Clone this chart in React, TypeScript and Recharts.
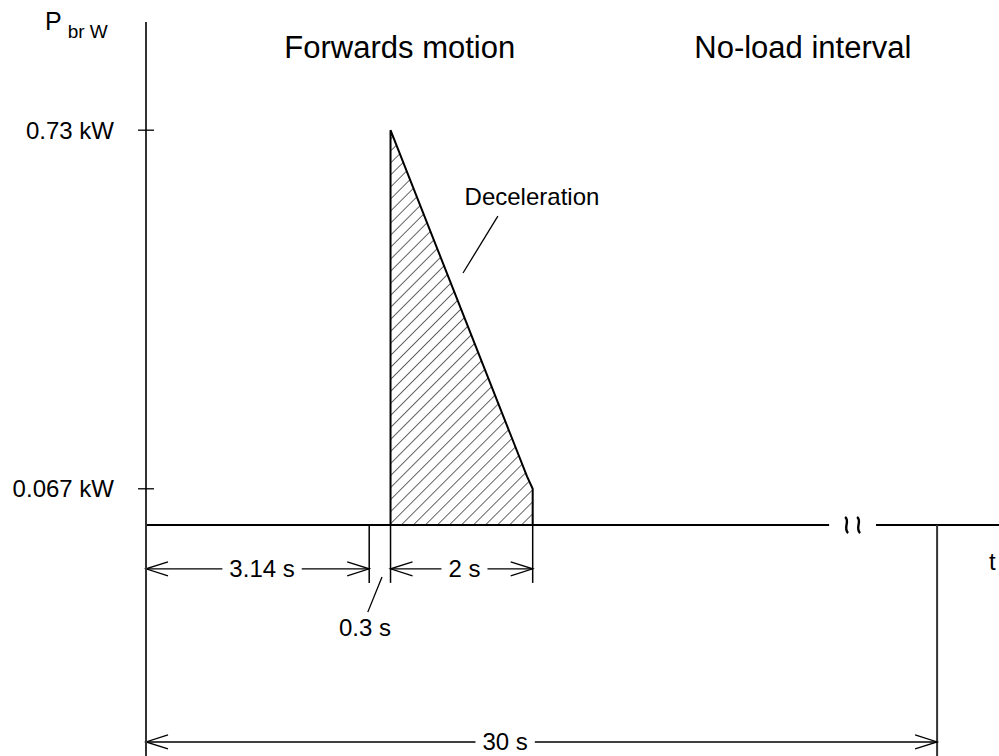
import { ComposedChart, XAxis, YAxis, Area, Line, ReferenceLine, Label } from 'recharts';

// Braking power over one duty cycle
const phaseTitles = ['Forwards motion', 'No-load interval'];
const eventTimes = [0, 3.14, 3.44, 5.44, 30]; // s: start, brake, decel start, decel end, cycle end
const intervalLabels = ['3.14 s', '0.3 s', '2 s', '30 s'];
const powerTimes = [3.44, 5.36, 5.44];
const powerValues = [0.73, 0.09, 0.067]; // kW
const yTicks = [0.067, 0.73];

const FONT = '"Liberation Sans", Arial, Helvetica, sans-serif';
const INK = '#000';

// the time axis is broken between BREAK_FROM and BREAK_TO, everything after it is squeezed
const BREAK_FROM = 9.61;
const BREAK_TO = 10.27;
const SQUEEZE = 0.0745;
const tx = (t: number) => (t <= BREAK_FROM ? t : BREAK_FROM + (t - BREAK_FROM) * SQUEEZE);

const areaData = powerTimes.map((t, i) => ({ x: tx(t), p: powerValues[i] }));
const outlineData = [
  { x: tx(eventTimes[2]), p: 0 },
  ...areaData,
  { x: tx(eventTimes[3]), p: 0 },
];

const DIM_ROW = -0.081;
const DIM_ROW_2 = -0.401;
const EXT_END = -0.107;

const textWidth = (s: string, size: number) =>
  s.split('').reduce((w, c) => w + (c === '.' || c === ' ' ? 0.278 : c === 's' ? 0.5 : 0.556), 0) * size;

const arrow = (x: number, y: number, dir: number) => (
  <polyline
    points={`${x + dir * 22},${y - 7} ${x},${y} ${x + dir * 22},${y + 7}`}
    fill="none"
    stroke={INK}
    strokeWidth={1.3}
  />
);

const dimShape = (text: string, frac = 0.5) => (props: any) => {
  const { x1, x2, y1 } = props;
  const cx = x1 + (x2 - x1) * frac;
  const half = textWidth(text, 24) / 2 + 7;
  return (
    <g>
      <line x1={x1} x2={cx - half} y1={y1} y2={y1} stroke={INK} strokeWidth={1.4} />
      <line x1={cx + half} x2={x2} y1={y1} y2={y1} stroke={INK} strokeWidth={1.4} />
      {arrow(x1, y1, 1)}
      {arrow(x2, y1, -1)}
      <text x={cx} y={y1} textAnchor="middle" dominantBaseline="central" fontSize={24} fontFamily={FONT}>
        {text}
      </text>
    </g>
  );
};

const note = (text: string, size: number, anchor: 'start' | 'middle' | 'end' = 'middle') => (props: any) => (
  <text
    x={props.x1}
    y={props.y1}
    textAnchor={anchor}
    dominantBaseline="central"
    fontSize={size}
    fontFamily={FONT}
    fill={INK}
  >
    {text}
  </text>
);

const breakShape = (props: any) => {
  const cx = (props.x1 + props.x2) / 2;
  const y = props.y1;
  const squiggle = (x: number) => (
    <path
      d={`M${x - 1.5},${y - 8} C${x + 4},${y - 4} ${x - 4},${y + 3} ${x + 1.5},${y + 8}`}
      fill="none"
      stroke={INK}
      strokeWidth={2.4}
    />
  );
  return (
    <g>
      {squiggle(cx - 6)}
      {squiggle(cx + 6)}
    </g>
  );
};

const YTick = (props: any) => {
  const { x, y, payload } = props;
  return (
    <g>
      <line x1={x - 8} x2={x + 8} y1={y} y2={y} stroke={INK} strokeWidth={1.3} />
      <text x={x - 32} y={y} textAnchor="end" dominantBaseline="central" fontSize={24} fontFamily={FONT} fill={INK}>
        {`${payload.value} kW`}
      </text>
    </g>
  );
};

const PLabel = () => (
  <text x={45} y={30} fontSize={25} fontFamily={FONT} fill={INK}>
    P
    <tspan dx={6} dy={8} fontSize={19}>
      br W
    </tspan>
  </text>
);

const seg = (xa: number, ya: number, xb: number, yb: number) => [
  { x: xa, y: ya },
  { x: xb, y: yb },
];

export default function App() {
  const [t0, tBrake, tDecel, tEnd, tCycle] = eventTimes;
  return (
    <div style={{ position: 'absolute', left: 0, top: 0, width: 999, height: 756, background: '#fff' }}>
      <ComposedChart width={999} height={756} margin={{ top: 22, right: 0, bottom: 0, left: 0 }}>
        <defs>
          <pattern id="hatch" width={8.5} height={8.5} patternUnits="userSpaceOnUse" patternTransform="rotate(45)">
            <line x1={0} y1={0} x2={0} y2={8.5} stroke={INK} strokeWidth={1.2} />
          </pattern>
        </defs>
        <XAxis type="number" dataKey="x" domain={[0, 12]} allowDataOverflow hide height={0} />
        <YAxis
          type="number"
          domain={[-0.427, 0.93]}
          allowDataOverflow
          ticks={yTicks}
          interval={0}
          width={146}
          tickSize={0}
          tickMargin={0}
          tickLine={false}
          tick={<YTick />}
          axisLine={{ stroke: '#333', strokeWidth: 2 }}
        >
          <Label content={<PLabel />} />
        </YAxis>

        {/* time axis with break */}
        <ReferenceLine segment={seg(0, 0, BREAK_FROM, 0)} stroke={INK} strokeWidth={2} />
        <ReferenceLine segment={seg(BREAK_TO, 0, 12, 0)} stroke={INK} strokeWidth={2} />
        <ReferenceLine segment={seg(BREAK_FROM, 0, BREAK_TO, 0)} shape={breakShape} />
        <ReferenceLine segment={seg(11.86, -0.068, 11.86, -0.068)} shape={note('t', 24, 'start')} />

        {/* extension lines */}
        <ReferenceLine segment={seg(tx(tBrake), 0, tx(tBrake), EXT_END)} stroke={INK} strokeWidth={1.5} />
        <ReferenceLine segment={seg(tx(tDecel), 0, tx(tDecel), EXT_END)} stroke={INK} strokeWidth={1.5} />
        <ReferenceLine segment={seg(tx(tEnd), 0, tx(tEnd), EXT_END)} stroke={INK} strokeWidth={1.5} />
        <ReferenceLine segment={seg(tx(tCycle), 0, tx(tCycle), -0.427)} stroke="#333" strokeWidth={2} />

        {/* dimensions */}
        <ReferenceLine segment={seg(tx(t0), DIM_ROW, tx(tBrake), DIM_ROW)} shape={dimShape(intervalLabels[0], 0.52)} />
        <ReferenceLine segment={seg(tx(tDecel), DIM_ROW, tx(tEnd), DIM_ROW)} shape={dimShape(intervalLabels[2], 0.52)} />
        <ReferenceLine segment={seg(tx(t0), DIM_ROW_2, tx(tCycle), DIM_ROW_2)} shape={dimShape(intervalLabels[3], 0.454)} />
        <ReferenceLine segment={seg(3.32, -0.096, 3.12, -0.161)} stroke={INK} strokeWidth={1.3} />
        <ReferenceLine segment={seg(3.08, -0.19, 3.08, -0.19)} shape={note(intervalLabels[1], 24)} />

        {/* titles and callout */}
        <ReferenceLine segment={seg(3.57, 0.882, 3.57, 0.882)} shape={note(phaseTitles[0], 31)} />
        <ReferenceLine segment={seg(9.24, 0.882, 9.24, 0.882)} shape={note(phaseTitles[1], 31)} />
        <ReferenceLine segment={seg(5.43, 0.607, 5.43, 0.607)} shape={note('Deceleration', 24)} />
        <ReferenceLine segment={seg(4.95, 0.571, 4.46, 0.466)} stroke={INK} strokeWidth={1.3} />

        <Area
          data={areaData}
          dataKey="p"
          type="linear"
          baseValue={0}
          fill="url(#hatch)"
          fillOpacity={1}
          stroke="none"
          isAnimationActive={false}
        />
        <Line
          data={outlineData}
          dataKey="p"
          type="linear"
          stroke={INK}
          strokeWidth={2}
          dot={false}
          activeDot={false}
          isAnimationActive={false}
        />
      </ComposedChart>
    </div>
  );
}
